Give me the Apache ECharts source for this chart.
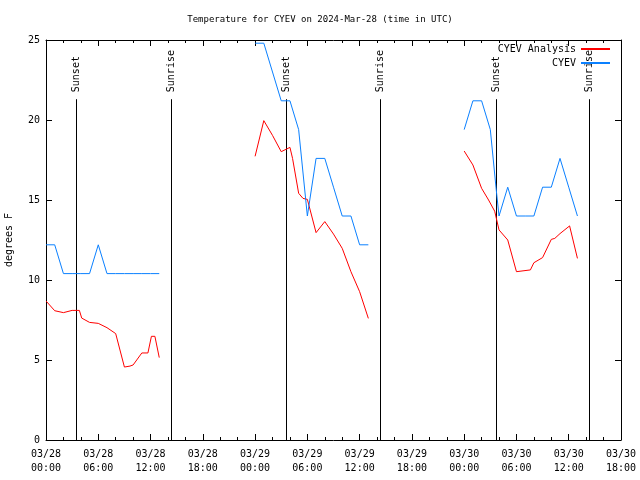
<!DOCTYPE html>
<html>
<head>
<meta charset="utf-8">
<script src="https://cdn.jsdelivr.net/npm/echarts@6/dist/echarts.min.js"></script>
<style>html,body{margin:0;padding:0;background:#fff}#c{width:640px;height:480px}</style>
</head>
<body>
<div id="c"></div>
<script>
// Hours since 2024-03-28 00:00 UTC
const xTickLabels = ['03/28\n00:00','03/28\n06:00','03/28\n12:00','03/28\n18:00',
  '03/29\n00:00','03/29\n06:00','03/29\n12:00','03/29\n18:00',
  '03/30\n00:00','03/30\n06:00','03/30\n12:00','03/30\n18:00'];

const analysisDay1 = [[0,8.69],[1,8.08],[2,7.96],[3,8.10],[3.83,8.10],[4.1,7.62],[5,7.35],[6,7.29],[7,7.02],[8,6.65],[9,4.56],[9.64,4.62],[10,4.69],[11,5.44],[11.7,5.44],[12.1,6.48],[12.5,6.48],[13,5.15]];
const analysisDay2 = [[24,17.73],[25,19.96],[26,19.04],[27,18.02],[28,18.29],[28.3,17.6],[29,15.42],[29.5,15.10],[30,15.04],[31,12.96],[32,13.65],[33,12.87],[34,11.98],[35,10.52],[36,9.27],[37,7.60]];
const analysisDay3 = [[48,18.06],[49,17.19],[50,15.73],[50.8,15.0],[51.5,14.3],[52,13.13],[53,12.5],[54,10.52],[55.6,10.63],[56,11.08],[57,11.40],[58,12.54],[58.4,12.6],[59,12.9],[60.1,13.38],[61,11.35]];

const obsDay1 = [[0,12.2],[1,12.2],[2,10.4],[3,10.4],[4,10.4],[5,10.4],[6,12.2],[7,10.4],[8,10.4],[9,10.4],[10,10.4],[11,10.4],[12,10.4],[13,10.4]];
const obsDay2 = [[24,24.8],[25,24.8],[26,23.0],[27,21.2],[28,21.2],[29,19.4],[30,14.0],[31,17.6],[32,17.6],[33,15.8],[34,14.0],[35,14.0],[36,12.2],[37,12.2]];
const obsDay3 = [[48,19.4],[49,21.2],[50,21.2],[51,19.4],[51.65,15.8],[52,14.0],[53,15.8],[54,14.0],[55,14.0],[56,14.0],[57,15.8],[58,15.8],[59,17.6],[60,15.8],[61,14.0]];

const sunTimes = [3.48, 14.38, 27.55, 38.37, 51.65, 62.29];
const sunLabels = ['Sunset','Sunrise','Sunset','Sunrise','Sunset','Sunrise'];

const FONT = 'DejaVu Sans Mono';
const RED = '#ff0000';
const BLUE = '#0a80ff';

const chart = echarts.init(document.getElementById('c'), null, {renderer:'canvas'});

function lineSeries(name, data, color){
  return {type:'line', name:name, data:data, xAxisIndex:0, yAxisIndex:0,
    showSymbol:false, symbol:'none', animation:false,
    lineStyle:{color:color, width:1}, itemStyle:{color:color}, z:3};
}

const axisCommon = {
  type:'value', min:0, max:66, interval:6,
  axisLine:{show:true, onZero:false, lineStyle:{color:'#000', width:1}},
  axisTick:{show:true, inside:true, length:6, lineStyle:{color:'#000'}},
  minorTick:{show:true, splitNumber:3, length:3, lineStyle:{color:'#000'}},
  splitLine:{show:false}
};
const yCommon = {
  type:'value', min:0, max:25, interval:5,
  axisLine:{show:true, onZero:false, lineStyle:{color:'#000', width:1}},
  axisTick:{show:true, inside:true, length:6, lineStyle:{color:'#000'}},
  splitLine:{show:false}
};
const legendCommon = {orient:'vertical', align:'right', right:30, padding:0,
  itemWidth:29, itemHeight:2, textStyle:{fontFamily:FONT, fontSize:10, color:'#000'}};

chart.setOption({
  animation:false,
  backgroundColor:'#fff',
  title:{text:'Temperature for CYEV on 2024-Mar-28 (time in UTC)', left:'center', top:10,
    textStyle:{fontFamily:FONT, fontSize:9, fontWeight:'normal', color:'#000'}},
  grid:{left:46, right:19, top:40, bottom:40, containLabel:false, outerBoundsMode:'none'},
  legend:[
    Object.assign({}, legendCommon, {data:[{name:'CYEV Analysis', icon:'rect'}], top:44}),
    Object.assign({}, legendCommon, {data:[{name:'CYEV', icon:'rect'}], top:58})
  ],
  xAxis:[
    Object.assign({}, axisCommon, {position:'bottom',
      axisLabel:{show:true, margin:7, lineHeight:14, fontFamily:FONT, fontSize:10, color:'#000',
        formatter:function(v){ return xTickLabels[Math.round(v/6)]; }}}),
    Object.assign({}, axisCommon, {position:'top', axisLabel:{show:false}})
  ],
  yAxis:[
    Object.assign({}, yCommon, {position:'left', name:'degrees F', nameLocation:'middle', nameGap:32,
      nameTextStyle:{fontFamily:FONT, fontSize:10, color:'#000'},
      axisLabel:{show:true, margin:6, fontFamily:FONT, fontSize:10, color:'#000'}}),
    Object.assign({}, yCommon, {position:'right', axisLabel:{show:false}})
  ],
  series:[
    lineSeries('CYEV Analysis', analysisDay1, RED),
    lineSeries('CYEV Analysis', analysisDay2, RED),
    lineSeries('CYEV Analysis', analysisDay3, RED),
    lineSeries('CYEV', obsDay1, BLUE),
    lineSeries('CYEV', obsDay2, BLUE),
    lineSeries('CYEV', obsDay3, BLUE),
    {type:'custom', name:'sun', xAxisIndex:0, yAxisIndex:0, animation:false, silent:true, z:2,
      data: sunTimes.map(function(t){ return [t]; }),
      encode:{x:0},
      renderItem:function(params, api){
        const t = api.value(0);
        const p0 = api.coord([t, 0]);
        const p1 = api.coord([t, 21.3]);
        const x = Math.round(p0[0]) + 0.5;
        return {type:'group', children:[
          {type:'line', shape:{x1:x, y1:p0[1], x2:x, y2:p1[1]}, style:{stroke:'#000', lineWidth:1}},
          {type:'text', x:x, y:p1[1]-7, rotation:Math.PI/2,
            style:{text:sunLabels[params.dataIndex], fill:'#000', font:'10px "' + FONT + '"', align:'left', verticalAlign:'middle'}}
        ]};
      }
    }
  ]
});
</script>
</body>
</html>
